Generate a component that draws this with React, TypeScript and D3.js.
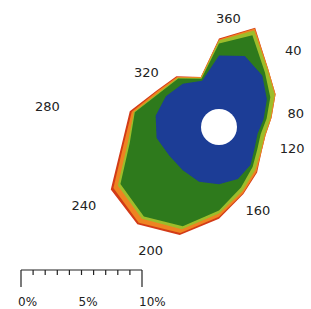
import React, { useEffect, useRef } from "react";
import * as d3 from "d3";

// wind directions, every 20 degrees
const directions = [0, 20, 40, 60, 80, 100, 120, 140, 160, 180, 200, 220, 240, 260, 280, 300, 320, 340];

// frequency (%) per class, stacked from the centre outwards
const classBlue = [4.42, 4.75, 4.08, 3.08, 2.25, 1.75, 1.92, 2.58, 3.08, 3.25, 3.33, 3.17, 3.25, 3.75, 3.83, 3.58, 3.17, 2.58];
const classGreen = [1.0, 1.83, 0.33, 0.33, 0.26, 0.26, 0.25, 0.25, 0.75, 2.17, 3.92, 5.0, 4.67, 2.25, 1.75, 0.58, 0.58, 0.17];
const classYellow = [0.25, 0.42, 0.33, 0.42, 0.33, 0.33, 0.33, 0.33, 0.33, 0.25, 0.25, 0.25, 0.25, 0.17, 0.08, 0.08, 0.08, 0.08];
const classOrange = [0.08, 0.17, 0.08, 0.08, 0.08, 0.08, 0.08, 0.17, 0.17, 0.25, 0.33, 0.42, 0.42, 0.33, 0.17, 0.17, 0.08, 0.08];
const classRed = [0.08, 0.08, 0, 0, 0, 0, 0, 0.08, 0.08, 0.17, 0.17, 0.17, 0.25, 0.17, 0.17, 0.08, 0.08, 0];

const dirLabels = ["360", "40", "80", "120", "160", "200", "240", "280", "320"];
const scaleTicks = [0, 1, 2, 3, 4, 5, 6, 7, 8, 9, 10];
const scaleLabels = [0, 5, 10];

// label placement (angle in degrees, distance in px from centre)
const labelPos = [
  [5, 109], [44, 107], [80, 78], [106, 76], [155, 92],
  [209, 141], [240, 156], [277, 173], [307, 91],
];

const colors = ["#1a3c96", "#2f7a1c", "#9dbd2c", "#ee8420", "#d33a18"];

export default function App() {
  const ref = useRef(null);

  useEffect(() => {
    const svg = d3.select(ref.current);
    svg.selectAll("*").remove();

    const cx = 219, cy = 127, hole = 18;
    const r = d3.scaleLinear().domain([0, 10]).range([hole, hole + 121]);

    const layers = [classBlue, classGreen, classYellow, classOrange, classRed];
    const keys = ["blue", "green", "yellow", "orange", "red"];
    const table = directions.map((d, i) => {
      const o = { dir: d };
      keys.forEach((k, j) => (o[k] = layers[j][i]));
      return o;
    });
    const stacked = d3.stack().keys(keys)(table);

    const defs = svg.append("defs");
    defs.append("filter").attr("id", "soft")
      .append("feGaussianBlur").attr("stdDeviation", 0.6);

    const g = svg.append("g")
      .attr("transform", `translate(${cx},${cy})`)
      .attr("filter", "url(#soft)");

    const line = d3.lineRadial()
      .angle(d => (d.data.dir * Math.PI) / 180)
      .radius(d => r(d[1]))
      .curve(d3.curveLinearClosed);

    // outermost first so the inner classes sit on top
    stacked.slice().reverse().forEach((s) => {
      g.append("path")
        .attr("d", line(s))
        .attr("fill", colors[s.index]);
    });

    g.append("circle").attr("r", hole).attr("fill", "#fff");

    // direction labels
    svg.append("g")
      .selectAll("text")
      .data(dirLabels)
      .join("text")
      .attr("x", (d, i) => cx + labelPos[i][1] * Math.sin((labelPos[i][0] * Math.PI) / 180))
      .attr("y", (d, i) => cy - labelPos[i][1] * Math.cos((labelPos[i][0] * Math.PI) / 180))
      .attr("dy", "0.36em")
      .attr("text-anchor", "middle")
      .attr("font-family", "DejaVu Sans, sans-serif")
      .attr("font-size", 13)
      .attr("fill", "#222")
      .text(d => d);

    // scale bar
    const bx = 21, by = 270;
    const sx = d3.scaleLinear().domain([0, 10]).range([bx, bx + r(10) - r(0)]);
    const bar = svg.append("g").attr("stroke", "#222").attr("stroke-width", 1.2);
    bar.append("line").attr("x1", sx(0)).attr("x2", sx(10)).attr("y1", by).attr("y2", by);
    bar.selectAll(".tk")
      .data(scaleTicks)
      .join("line")
      .attr("x1", d => sx(d)).attr("x2", d => sx(d))
      .attr("y1", by)
      .attr("y2", d => (d === 0 || d === 10 ? by + 17 : by + 5));

    svg.append("g")
      .selectAll("text")
      .data(scaleLabels)
      .join("text")
      .attr("x", d => sx(d) - 3)
      .attr("y", 306)
      .attr("font-family", "DejaVu Sans, sans-serif")
      .attr("font-size", 12)
      .attr("fill", "#222")
      .text(d => `${d}%`);
  }, []);

  return (
    <div style={{ position: "fixed", left: 0, top: 0, background: "#fff" }}>
      <svg ref={ref} width={311} height={309}></svg>
    </div>
  );
}
